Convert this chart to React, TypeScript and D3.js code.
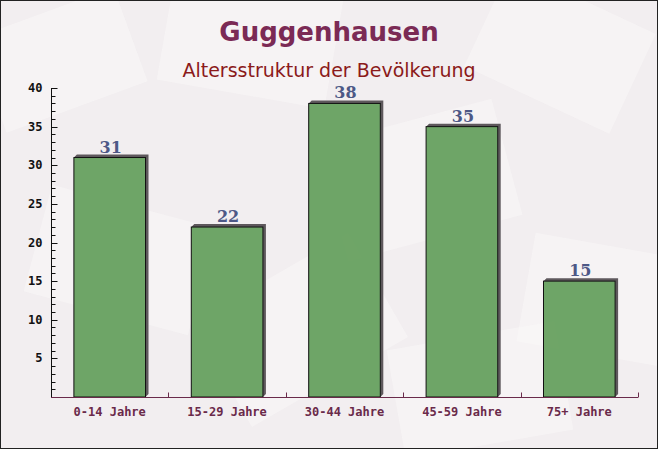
import * as d3 from "d3";
import { useEffect, useRef } from "react";

const categories = ["0-14 Jahre", "15-29 Jahre", "30-44 Jahre", "45-59 Jahre", "75+ Jahre"];
const values = [31, 22, 38, 35, 15];
const yTicks = [5, 10, 15, 20, 25, 30, 35, 40];

const title = "Guggenhausen";
const subtitle = "Altersstruktur der Bevölkerung";

// faint envelope shapes in the background: [cx, cy, w, h, angle]
const envelopes = [
  [60, 60, 150, 100, -20],
  [250, 40, 170, 110, 10],
  [560, 50, 160, 110, 25],
  [420, 180, 180, 120, -15],
  [120, 260, 170, 110, 15],
  [300, 330, 180, 120, -30],
  [600, 300, 150, 110, 10],
  [480, 390, 170, 110, -10],
];

const App = () => {
  const ref = useRef<SVGSVGElement | null>(null);
  const width = 658;
  const height = 449;

  useEffect(() => {
    const margin = { top: 88, right: 20, bottom: 51, left: 51 };
    const svg = d3.select(ref.current);
    svg.selectAll("*").remove();

    // background
    svg.append("rect").attr("width", width).attr("height", height).attr("fill", "#f2eef0");
    svg
      .append("g")
      .selectAll("rect")
      .data(envelopes)
      .enter()
      .append("rect")
      .attr("x", (d) => -d[2] / 2)
      .attr("y", (d) => -d[3] / 2)
      .attr("width", (d) => d[2])
      .attr("height", (d) => d[3])
      .attr("transform", (d) => `translate(${d[0]},${d[1]}) rotate(${d[4]})`)
      .attr("fill", "#faf8f8")
      .attr("opacity", 0.55);

    const plotBottom = height - margin.bottom - 1;

    const x = d3
      .scaleBand()
      .domain(categories)
      .range([margin.left, width - margin.right])
      .paddingInner(0.39)
      .paddingOuter(0.195);

    const y = d3.scaleLinear().domain([0, 40]).range([plotBottom, margin.top]);

    // bars with shadow (only the part outside the bar)
    const bars = svg.append("g");
    bars
      .selectAll("path.shadow")
      .data(values)
      .enter()
      .append("path")
      .attr("class", "shadow")
      .attr("d", (d, i) => {
        const x0 = x(categories[i])!;
        const x1 = x0 + x.bandwidth();
        const y0 = y(d);
        return `M${x0},${y0} L${x0 + 3},${y0 - 3} L${x1 + 3},${y0 - 3} L${x1 + 3},${plotBottom - 3} L${x1},${plotBottom} L${x1},${y0} Z`;
      })
      .attr("fill", "#5e585c");

    bars
      .selectAll("rect.bar")
      .data(values)
      .enter()
      .append("rect")
      .attr("class", "bar")
      .attr("x", (d, i) => x(categories[i])!)
      .attr("y", (d) => y(d))
      .attr("width", x.bandwidth())
      .attr("height", (d) => plotBottom - y(d))
      .attr("fill", "#5f9c58")
      .attr("fill-opacity", 0.9)
      .attr("stroke", "#111")
      .attr("stroke-width", 1);

    // value labels
    svg
      .append("g")
      .selectAll("text")
      .data(values)
      .enter()
      .append("text")
      .attr("x", (d, i) => x(categories[i])! + x.bandwidth() / 2 + 1)
      .attr("y", (d) => y(d) - 5)
      .attr("text-anchor", "middle")
      .attr("font-family", "'DejaVu Serif', serif")
      .attr("font-weight", "bold")
      .attr("font-size", 16)
      .attr("fill", "#4d5886")
      .text((d) => d);

    // y axis
    const yAxis = svg.append("g").attr("transform", `translate(${margin.left + 0.5},0)`);
    yAxis
      .append("line")
      .attr("y1", margin.top)
      .attr("y2", plotBottom)
      .attr("stroke", "#111");
    yAxis
      .selectAll("line.minor")
      .data(d3.range(1, 41))
      .enter()
      .append("line")
      .attr("class", "minor")
      .attr("x1", 0)
      .attr("x2", (d) => (d % 5 === 0 ? 6 : 4))
      .attr("y1", (d) => Math.round(y(d)) + 0.5)
      .attr("y2", (d) => Math.round(y(d)) + 0.5)
      .attr("stroke", "#111");
    yAxis
      .selectAll("text")
      .data(yTicks)
      .enter()
      .append("text")
      .attr("x", -9)
      .attr("y", (d) => y(d) + 4)
      .attr("text-anchor", "end")
      .attr("font-family", "'DejaVu Sans Mono', monospace")
      .attr("font-weight", "bold")
      .attr("font-size", 12)
      .attr("fill", "#111")
      .text((d) => d);

    // x axis
    const xAxis = svg.append("g").attr("transform", `translate(0,${plotBottom + 0.5})`);
    xAxis
      .append("line")
      .attr("x1", margin.left)
      .attr("x2", width - margin.right)
      .attr("stroke", "#6a2a4a");
    const step = x.step();
    xAxis
      .selectAll("line.tick")
      .data(d3.range(1, categories.length + 1))
      .enter()
      .append("line")
      .attr("class", "tick")
      .attr("x1", (d) => Math.round(margin.left + d * step) + 0.5)
      .attr("x2", (d) => Math.round(margin.left + d * step) + 0.5)
      .attr("y1", 0)
      .attr("y2", -5)
      .attr("stroke", "#6a2a4a");
    xAxis
      .selectAll("text")
      .data(categories)
      .enter()
      .append("text")
      .attr("x", (d) => x(d)! + x.bandwidth() / 2)
      .attr("y", 18)
      .attr("text-anchor", "middle")
      .attr("font-family", "'DejaVu Sans Mono', monospace")
      .attr("font-weight", "bold")
      .attr("font-size", 12)
      .attr("fill", "#6a2a4a")
      .text((d) => d);

    // titles
    svg
      .append("text")
      .attr("x", width / 2)
      .attr("y", 41)
      .attr("text-anchor", "middle")
      .attr("font-family", "'DejaVu Sans', sans-serif")
      .attr("font-weight", "bold")
      .attr("font-size", 26)
      .attr("fill", "#7b2a55")
      .text(title);
    svg
      .append("text")
      .attr("x", width / 2)
      .attr("y", 77)
      .attr("text-anchor", "middle")
      .attr("font-family", "'DejaVu Sans', sans-serif")
      .attr("font-size", 19)
      .attr("fill", "#8b1a1a")
      .text(subtitle);

    // border
    svg
      .append("rect")
      .attr("x", 0.5)
      .attr("y", 0.5)
      .attr("width", width - 1)
      .attr("height", height - 1)
      .attr("fill", "none")
      .attr("stroke", "#222");
  }, []);

  return (
    <svg
      ref={ref}
      width={width}
      height={height}
      style={{ position: "absolute", left: 0, top: 0, display: "block" }}
    />
  );
};

export default App;
